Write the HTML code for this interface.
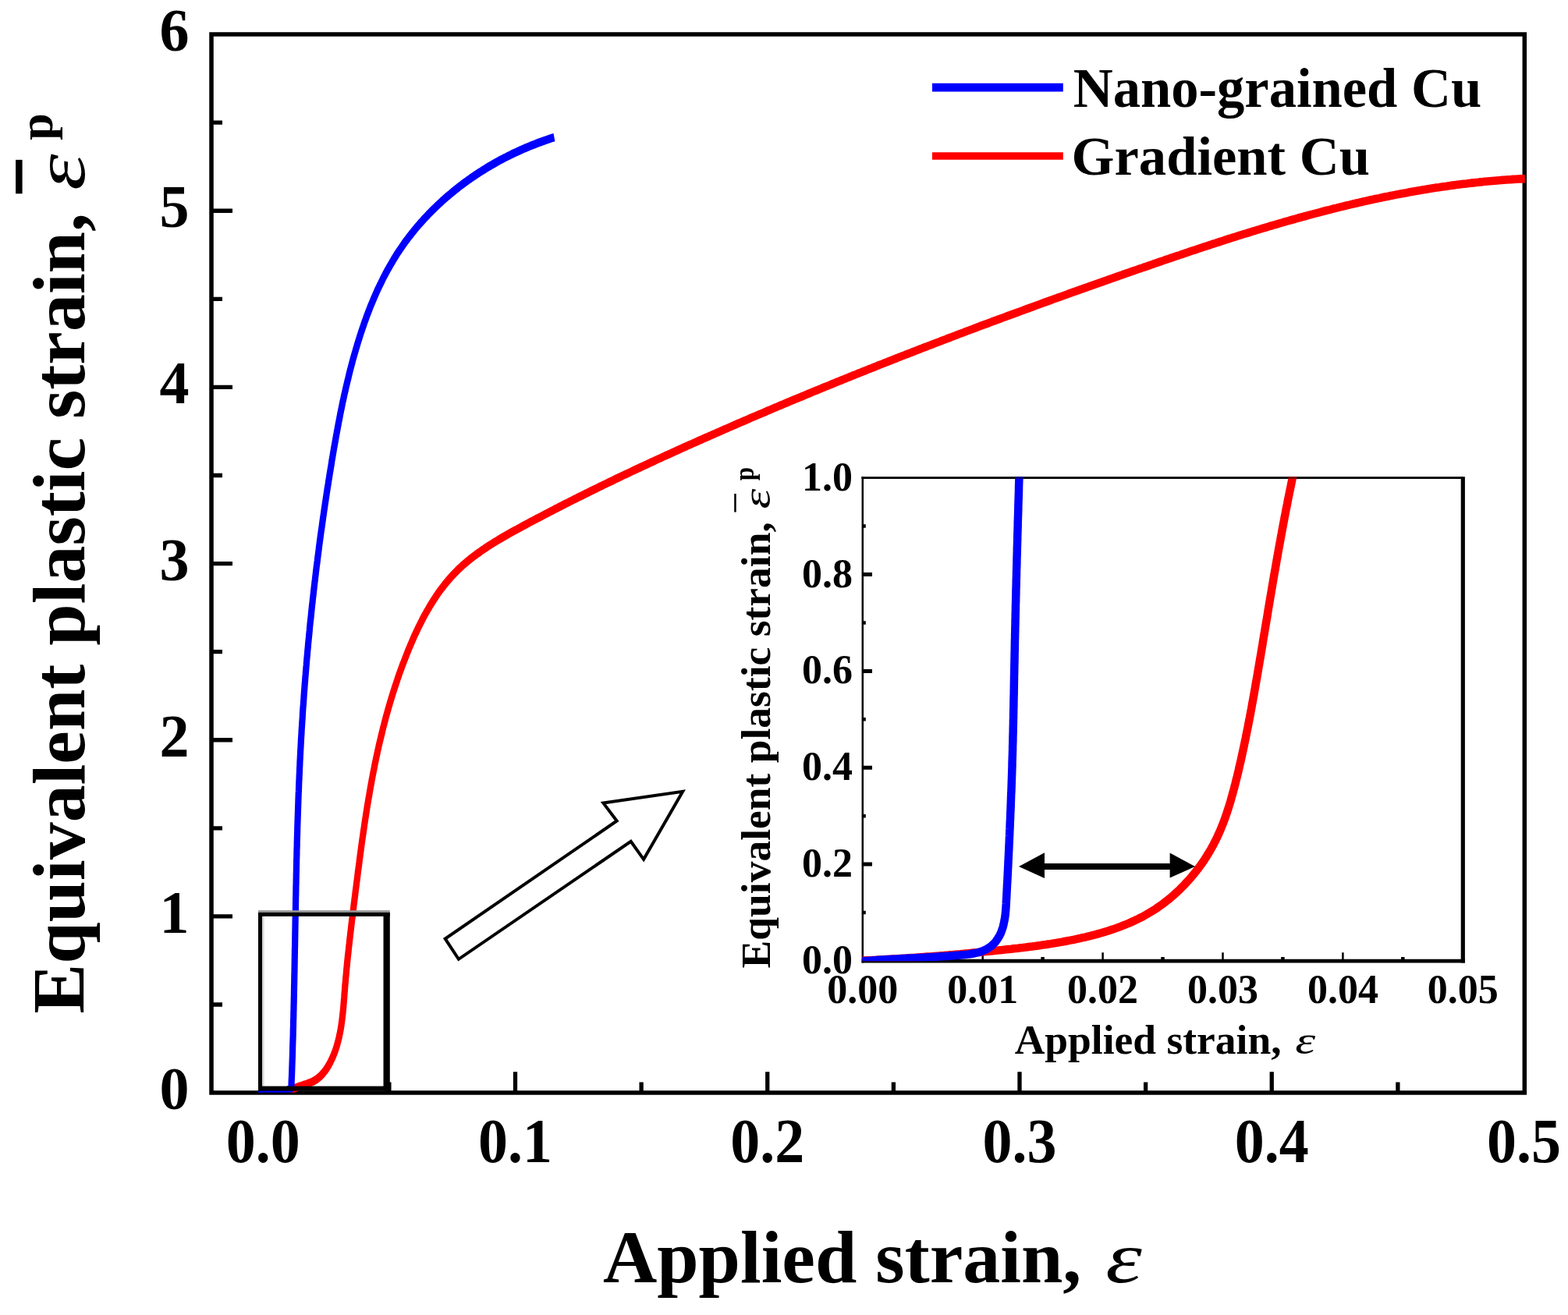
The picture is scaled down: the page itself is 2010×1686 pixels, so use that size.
<!DOCTYPE html><html><head><meta charset="utf-8"><title>Equivalent plastic strain vs applied strain</title>
<style>html,body{margin:0;padding:0;background:#fff;}svg{display:block;}text{font-family:'Liberation Serif','Times New Roman',serif;}</style></head><body>
<svg xmlns="http://www.w3.org/2000/svg" width="2010" height="1686" viewBox="0 0 2010 1686">
<rect x="0" y="0" width="2010" height="1686" fill="#fff"/>
<defs><clipPath id="cm"><rect x="269.0" y="44.1" width="1685.8" height="1356.6"/></clipPath>
<clipPath id="ci"><rect x="1105" y="611.3" width="772" height="620.9"/></clipPath></defs>
<g stroke="#000" fill="none" stroke-linecap="butt">
<path d="M271.0 44.1 H1954.3 V1401.1 H271.0 Z" stroke-width="5.5" stroke-linejoin="miter"/>
<path d="M660.50 1401.1 V1374.2 M983.75 1401.1 V1374.2 M1307.00 1401.1 V1374.2 M1630.25 1401.1 V1374.2 M498.88 1401.1 V1387.4 M822.12 1401.1 V1387.4 M1145.38 1401.1 V1387.4 M1468.62 1401.1 V1387.4 M1791.88 1401.1 V1387.4" stroke-width="5.3"/>
<path d="M271.0 1174.93 H298.0 M271.0 948.76 H298.0 M271.0 722.59 H298.0 M271.0 496.42 H298.0 M271.0 270.25 H298.0 M271.0 1288.01 H285.0 M271.0 1061.84 H285.0 M271.0 835.67 H285.0 M271.0 609.50 H285.0 M271.0 383.33 H285.0 M271.0 157.16 H285.0" stroke-width="5.3"/>
</g>
<g font-weight="bold" fill="#000">
<text transform="translate(337.2 1490) scale(1 1.045)" x="0" y="0" font-size="76" text-anchor="middle">0.0</text>
<text transform="translate(660.5 1490) scale(1 1.045)" x="0" y="0" font-size="76" text-anchor="middle">0.1</text>
<text transform="translate(983.8 1490) scale(1 1.045)" x="0" y="0" font-size="76" text-anchor="middle">0.2</text>
<text transform="translate(1307.0 1490) scale(1 1.045)" x="0" y="0" font-size="76" text-anchor="middle">0.3</text>
<text transform="translate(1630.2 1490) scale(1 1.045)" x="0" y="0" font-size="76" text-anchor="middle">0.4</text>
<text transform="translate(1953.5 1490) scale(1 1.045)" x="0" y="0" font-size="76" text-anchor="middle">0.5</text>
<text transform="translate(242.4 1422.1) scale(1 1.03)" x="0" y="0" font-size="76" text-anchor="end">0</text>
<text transform="translate(242.4 1195.9) scale(1 1.03)" x="0" y="0" font-size="76" text-anchor="end">1</text>
<text transform="translate(242.4 969.8) scale(1 1.03)" x="0" y="0" font-size="76" text-anchor="end">2</text>
<text transform="translate(242.4 743.6) scale(1 1.03)" x="0" y="0" font-size="76" text-anchor="end">3</text>
<text transform="translate(242.4 517.4) scale(1 1.03)" x="0" y="0" font-size="76" text-anchor="end">4</text>
<text transform="translate(242.4 291.2) scale(1 1.03)" x="0" y="0" font-size="76" text-anchor="end">5</text>
<text transform="translate(242.4 65.1) scale(1 1.03)" x="0" y="0" font-size="76" text-anchor="end">6</text>
</g>
<g font-weight="bold" fill="#000">
<text transform="translate(772.9 1643.5) scale(1 1.0)" font-size="96">Applied strain,</text>
<text transform="translate(1417.3 1643.5) scale(1.23 0.96)" font-size="96" font-style="italic" font-weight="normal">&#949;</text>
<g transform="translate(107.5 1299.8) rotate(-90)">
<text x="0" y="0" font-size="96">Equivalent plastic strain,</text>
<text transform="translate(1055.8 0) scale(1.23 0.96)" font-size="96" font-style="italic" font-weight="normal">&#949;</text>
<rect x="1051.5" y="-87.4" width="43.4" height="8.5" fill="#000"/>
<text x="1120" y="-41" font-size="62">p</text>
</g>
</g>
<g>
<path d="M1195 112.2 H1362.8" stroke="#00f" stroke-width="10.7"/>
<path d="M1195 200 H1362.8" stroke="#f00" stroke-width="9.5"/>
<text transform="translate(1375.7 136.5) scale(1 1.01)" font-size="70.6" font-weight="bold">Nano-grained Cu</text>
<text transform="translate(1373.6 223.7) scale(1 1.0)" font-size="70.6" font-weight="bold">Gradient Cu</text>
</g>
<g clip-path="url(#cm)"><g transform="scale(1 1.290)" fill="none" stroke-linejoin="round">
<path d="M370.7 1085.2 372.9 1083.8 375.3 1082.6 378.0 1081.6 380.7 1080.7 383.6 1079.8 386.6 1079.1 389.5 1078.3 392.5 1077.6 395.5 1076.7 398.4 1075.9 401.1 1074.9 403.7 1073.7 406.2 1072.5 408.5 1071.1 410.7 1069.6 412.7 1068.0 414.6 1066.3 416.5 1064.5 418.2 1062.6 419.8 1060.7 421.3 1058.8 422.7 1056.8 424.1 1054.7 425.3 1052.7 426.5 1050.6 427.7 1048.5 428.7 1046.4 429.8 1044.2 430.7 1042.1 431.6 1039.9 432.4 1037.7 433.2 1035.5 433.9 1033.3 434.6 1031.1 435.2 1028.8 435.8 1026.6 436.4 1024.3 436.9 1022.0 437.4 1019.7 437.8 1017.4 438.2 1015.1 438.6 1012.8 438.9 1010.5 439.3 1008.1 439.6 1005.8 439.9 1003.5 440.2 1001.1 440.4 998.8 440.7 996.4 440.9 994.1 441.2 991.7 441.4 989.4 441.6 987.0 441.9 984.7 442.1 982.3 442.3 980.0 442.6 977.6 442.9 975.3 443.1 972.9 443.4 970.6 443.7 968.3 444.0 965.9 444.2 963.6 444.5 961.3 444.8 958.9 445.1 956.6 445.4 954.3 445.7 952.0 446.0 949.6 446.4 947.3 446.7 945.0 447.0 942.7 447.3 940.4 447.7 938.0 448.0 935.7 448.3 933.4 448.7 931.1 449.0 928.8 449.4 926.5 449.7 924.2 450.1 921.9 450.4 919.6 450.8 917.2 451.1 914.9 451.5 912.6 451.9 910.3 452.2 908.0 452.6 905.7 453.0 903.4 453.3 901.1 453.7 898.8 454.1 896.5 454.4 894.2 454.8 891.9 455.2 889.6 455.5 887.3 455.9 885.0 456.3 882.7 456.7 880.4 457.0 878.1 457.4 875.8 457.8 873.5 458.2 871.2 458.5 868.9 458.9 866.6 459.3 864.3 459.7 862.0 460.1 859.7 460.5 857.4 460.8 855.1 461.2 852.8 461.6 850.5 462.0 848.2 462.4 845.9 462.8 843.6 463.2 841.3 463.6 839.0 464.0 836.7 464.4 834.4 464.9 832.1 465.3 829.8 465.7 827.5 466.1 825.2 466.6 822.9 467.0 820.6 467.4 818.3 467.9 816.0 468.3 813.7 468.8 811.5 469.2 809.2 469.7 806.9 470.2 804.6 470.6 802.3 471.1 800.0 471.6 797.7 472.1 795.5 472.6 793.2 473.1 790.9 473.6 788.6 474.1 786.3 474.6 784.0 475.1 781.8 475.7 779.5 476.2 777.2 476.7 774.9 477.3 772.7 477.8 770.4 478.4 768.1 479.0 765.8 479.6 763.6 480.1 761.3 480.7 759.0 481.3 756.8 481.9 754.5 482.5 752.2 483.2 750.0 483.8 747.7 484.4 745.5 485.1 743.2 485.7 740.9 486.4 738.7 487.1 736.4 487.8 734.2 488.5 731.9 489.2 729.7 489.9 727.4 490.6 725.2 491.3 722.9 492.1 720.7 492.8 718.4 493.6 716.2 494.3 714.0 495.1 711.7 495.9 709.5 496.7 707.3 497.5 705.0 498.3 702.8 499.2 700.6 500.0 698.3 500.9 696.1 501.7 693.9 502.6 691.7 503.5 689.4 504.4 687.2 505.3 685.0 506.2 682.8 507.2 680.6 508.1 678.4 509.1 676.2 510.0 673.9 511.0 671.7 512.0 669.5 513.0 667.3 514.1 665.1 515.1 662.9 516.1 660.7 517.2 658.6 518.3 656.4 519.4 654.2 520.5 652.0 521.6 649.8 522.7 647.6 523.9 645.4 525.0 643.3 526.2 641.1 527.4 638.9 528.6 636.8 529.8 634.6 531.0 632.4 532.3 630.3 533.6 628.2 534.9 626.0 536.2 623.9 537.5 621.8 538.9 619.7 540.2 617.6 541.6 615.5 543.0 613.4 544.4 611.4 545.9 609.3 547.4 607.3 548.9 605.3 550.4 603.3 551.9 601.3 553.5 599.3 555.1 597.3 556.7 595.4 558.4 593.4 560.0 591.5 561.7 589.6 563.4 587.7 565.2 585.9 567.0 584.1 568.8 582.2 570.6 580.4 572.5 578.7 574.4 576.9 576.3 575.2 578.2 573.5 580.2 571.8 582.2 570.1 584.3 568.5 586.3 566.9 588.4 565.3 590.6 563.8 592.7 562.2 594.9 560.7 597.2 559.2 599.4 557.8 601.7 556.3 604.0 554.9 606.3 553.5 608.7 552.1 611.1 550.7 613.5 549.4 615.9 548.1 618.3 546.7 620.8 545.5 623.2 544.2 625.7 542.9 628.2 541.7 630.8 540.4 633.3 539.2 635.9 538.0 638.4 536.8 641.0 535.6 643.6 534.4 646.2 533.2 648.8 532.1 651.4 530.9 654.0 529.8 656.7 528.6 659.3 527.5 662.0 526.4 664.6 525.3 667.3 524.2 669.9 523.0 672.6 521.9 675.2 520.8 677.9 519.7 680.5 518.6 683.2 517.5 685.9 516.4 688.5 515.3 691.2 514.3 693.8 513.2 696.5 512.1 699.2 511.0 701.8 509.9 704.5 508.8 707.2 507.8 709.9 506.7 712.5 505.6 715.2 504.6 717.9 503.5 720.6 502.4 723.2 501.4 725.9 500.3 728.6 499.3 731.3 498.2 733.9 497.2 736.6 496.1 739.3 495.1 742.0 494.0 744.7 493.0 747.4 492.0 750.0 490.9 752.7 489.9 755.4 488.9 758.1 487.8 760.8 486.8 763.5 485.8 766.2 484.8 768.9 483.7 771.6 482.7 774.3 481.7 777.0 480.7 779.7 479.7 782.4 478.7 785.1 477.7 787.8 476.6 790.5 475.6 793.2 474.6 795.9 473.6 798.6 472.6 801.3 471.6 804.0 470.7 806.7 469.7 809.4 468.7 812.1 467.7 814.8 466.7 817.5 465.7 820.2 464.7 822.9 463.7 825.6 462.8 828.4 461.8 831.1 460.8 833.8 459.8 836.5 458.9 839.2 457.9 841.9 456.9 844.7 455.9 847.4 455.0 850.1 454.0 852.8 453.0 855.5 452.1 858.3 451.1 861.0 450.2 863.7 449.2 866.4 448.3 869.2 447.3 871.9 446.3 874.6 445.4 877.3 444.4 880.1 443.5 882.8 442.5 885.5 441.6 888.3 440.6 891.0 439.7 893.7 438.8 896.4 437.8 899.2 436.9 901.9 435.9 904.7 435.0 907.4 434.1 910.1 433.1 912.9 432.2 915.6 431.3 918.3 430.3 921.1 429.4 923.8 428.5 926.6 427.5 929.3 426.6 932.0 425.7 934.8 424.7 937.5 423.8 940.3 422.9 943.0 422.0 945.8 421.0 948.5 420.1 951.2 419.2 954.0 418.3 956.7 417.4 959.5 416.5 962.2 415.5 965.0 414.6 967.7 413.7 970.5 412.8 973.2 411.9 976.0 411.0 978.8 410.1 981.5 409.2 984.3 408.2 987.0 407.3 989.8 406.4 992.5 405.5 995.3 404.6 998.0 403.7 1000.8 402.8 1003.6 401.9 1006.3 401.0 1009.1 400.1 1011.8 399.2 1014.6 398.3 1017.4 397.4 1020.1 396.5 1022.9 395.7 1025.7 394.8 1028.4 393.9 1031.2 393.0 1033.9 392.1 1036.7 391.2 1039.5 390.3 1042.2 389.4 1045.0 388.5 1047.8 387.7 1050.6 386.8 1053.3 385.9 1056.1 385.0 1058.9 384.1 1061.6 383.3 1064.4 382.4 1067.2 381.5 1070.0 380.6 1072.7 379.7 1075.5 378.9 1078.3 378.0 1081.1 377.1 1083.8 376.3 1086.6 375.4 1089.4 374.5 1092.2 373.6 1094.9 372.8 1097.7 371.9 1100.5 371.0 1103.3 370.2 1106.1 369.3 1108.9 368.5 1111.6 367.6 1114.4 366.7 1117.2 365.9 1120.0 365.0 1122.8 364.2 1125.6 363.3 1128.3 362.4 1131.1 361.6 1133.9 360.7 1136.7 359.9 1139.5 359.0 1142.3 358.2 1145.1 357.3 1147.9 356.5 1150.6 355.6 1153.4 354.8 1156.2 353.9 1159.0 353.1 1161.8 352.2 1164.6 351.4 1167.4 350.6 1170.2 349.7 1173.0 348.9 1175.8 348.0 1178.6 347.2 1181.4 346.3 1184.2 345.5 1187.0 344.7 1189.8 343.8 1192.6 343.0 1195.4 342.2 1198.2 341.3 1201.0 340.5 1203.8 339.7 1206.6 338.8 1209.4 338.0 1212.2 337.2 1215.0 336.3 1217.8 335.5 1220.6 334.7 1223.4 333.9 1226.2 333.0 1229.0 332.2 1231.8 331.4 1234.6 330.6 1237.4 329.7 1240.2 328.9 1243.0 328.1 1245.8 327.3 1248.6 326.5 1251.4 325.7 1254.2 324.8 1257.0 324.0 1259.8 323.2 1262.7 322.4 1265.5 321.6 1268.3 320.8 1271.1 319.9 1273.9 319.1 1276.7 318.3 1279.5 317.5 1282.3 316.7 1285.2 315.9 1288.0 315.1 1290.8 314.3 1293.6 313.5 1296.4 312.7 1299.2 311.9 1302.0 311.1 1304.9 310.3 1307.7 309.5 1310.5 308.7 1313.3 307.9 1316.1 307.1 1318.9 306.3 1321.8 305.5 1324.6 304.7 1327.4 303.9 1330.2 303.1 1333.0 302.3 1335.9 301.5 1338.7 300.7 1341.5 299.9 1344.3 299.1 1347.2 298.3 1350.0 297.5 1352.8 296.7 1355.6 295.9 1358.4 295.2 1361.3 294.4 1364.1 293.6 1366.9 292.8 1369.7 292.0 1372.6 291.2 1375.4 290.4 1378.2 289.7 1381.1 288.9 1383.9 288.1 1386.7 287.3 1389.5 286.5 1392.4 285.8 1395.2 285.0 1398.0 284.2 1400.9 283.4 1403.7 282.6 1406.5 281.9 1409.4 281.1 1412.2 280.3 1415.0 279.5 1417.8 278.8 1420.7 278.0 1423.5 277.2 1426.3 276.5 1429.2 275.7 1432.0 274.9 1434.8 274.1 1437.7 273.4 1440.5 272.6 1443.3 271.8 1446.2 271.1 1449.0 270.3 1451.9 269.5 1454.7 268.8 1457.5 268.0 1460.4 267.2 1463.2 266.5 1466.0 265.7 1468.9 265.0 1471.7 264.2 1474.6 263.4 1477.4 262.7 1480.2 261.9 1483.1 261.2 1485.9 260.4 1488.8 259.7 1491.6 258.9 1494.4 258.1 1497.3 257.4 1500.1 256.6 1503.0 255.9 1505.8 255.1 1508.7 254.4 1511.5 253.7 1514.3 252.9 1517.2 252.2 1520.0 251.4 1522.9 250.7 1525.7 249.9 1528.6 249.2 1531.4 248.5 1534.3 247.7 1537.1 247.0 1540.0 246.3 1542.8 245.5 1545.7 244.8 1548.5 244.1 1551.4 243.4 1554.2 242.6 1557.1 241.9 1559.9 241.2 1562.8 240.5 1565.6 239.8 1568.5 239.1 1571.4 238.3 1574.2 237.6 1577.1 236.9 1579.9 236.2 1582.8 235.5 1585.7 234.8 1588.5 234.1 1591.4 233.4 1594.2 232.7 1597.1 232.1 1600.0 231.4 1602.8 230.7 1605.7 230.0 1608.6 229.3 1611.4 228.6 1614.3 228.0 1617.2 227.3 1620.0 226.6 1622.9 226.0 1625.8 225.3 1628.6 224.6 1631.5 224.0 1634.4 223.3 1637.3 222.7 1640.1 222.0 1643.0 221.4 1645.9 220.7 1648.8 220.1 1651.7 219.5 1654.5 218.8 1657.4 218.2 1660.3 217.6 1663.2 216.9 1666.1 216.3 1669.0 215.7 1671.8 215.1 1674.7 214.5 1677.6 213.9 1680.5 213.3 1683.4 212.7 1686.3 212.1 1689.2 211.5 1692.1 210.9 1695.0 210.3 1697.9 209.7 1700.8 209.1 1703.7 208.6 1706.6 208.0 1709.5 207.4 1712.4 206.9 1715.3 206.3 1718.2 205.7 1721.1 205.2 1724.0 204.6 1726.9 204.1 1729.8 203.6 1732.7 203.0 1735.6 202.5 1738.5 202.0 1741.4 201.5 1744.3 200.9 1747.3 200.4 1750.2 199.9 1753.1 199.4 1756.0 198.9 1758.9 198.4 1761.9 197.9 1764.8 197.4 1767.7 197.0 1770.6 196.5 1773.6 196.0 1776.5 195.5 1779.4 195.1 1782.4 194.6 1785.3 194.2 1788.2 193.7 1791.2 193.3 1794.1 192.8 1797.0 192.4 1800.0 192.0 1802.9 191.6 1805.8 191.1 1808.8 190.7 1811.7 190.3 1814.7 189.9 1817.6 189.5 1820.6 189.1 1823.5 188.7 1826.5 188.4 1829.4 188.0 1832.4 187.6 1835.4 187.2 1838.3 186.9 1841.3 186.5 1844.2 186.2 1847.2 185.8 1850.2 185.5 1853.1 185.2 1856.1 184.8 1859.1 184.5 1862.0 184.2 1865.0 183.9 1868.0 183.6 1871.0 183.3 1873.9 183.0 1876.9 182.7 1879.9 182.5 1882.9 182.2 1885.9 181.9 1888.9 181.7 1891.8 181.4 1894.8 181.2 1897.8 180.9 1900.8 180.7 1903.8 180.4 1906.8 180.2 1909.8 180.0 1912.8 179.8 1915.8 179.6 1918.8 179.4 1921.8 179.2 1924.8 179.0 1927.8 178.9 1930.8 178.7 1933.9 178.5 1936.9 178.4 1939.9 178.2 1942.9 178.1 1945.9 177.9 1948.9 177.8 1952.0 177.7 1955.0 177.6" stroke="#f00" stroke-width="8.2"/>
<path d="M331.0 1084.9 366.0 1084.9 373.4 1081.5 373.5 1079.2 373.6 1076.9 373.7 1074.6 373.8 1072.2 374.0 1069.9 374.1 1067.6 374.2 1065.3 374.3 1063.0 374.4 1060.7 374.5 1058.3 374.6 1056.0 374.7 1053.7 374.8 1051.4 374.9 1049.1 375.0 1046.8 375.1 1044.4 375.1 1042.1 375.2 1039.8 375.3 1037.5 375.4 1035.2 375.5 1032.8 375.6 1030.5 375.7 1028.2 375.7 1025.9 375.8 1023.6 375.9 1021.2 376.0 1018.9 376.0 1016.6 376.1 1014.3 376.2 1012.0 376.3 1009.6 376.3 1007.3 376.4 1005.0 376.5 1002.7 376.5 1000.4 376.6 998.0 376.7 995.7 376.7 993.4 376.8 991.1 376.9 988.7 376.9 986.4 377.0 984.1 377.0 981.8 377.1 979.5 377.2 977.1 377.2 974.8 377.3 972.5 377.3 970.2 377.4 967.8 377.5 965.5 377.5 963.2 377.6 960.9 377.6 958.5 377.7 956.2 377.7 953.9 377.8 951.6 377.8 949.3 377.9 946.9 377.9 944.6 378.0 942.3 378.1 940.0 378.1 937.6 378.2 935.3 378.2 933.0 378.3 930.7 378.3 928.3 378.4 926.0 378.4 923.7 378.5 921.4 378.5 919.0 378.6 916.7 378.6 914.4 378.7 912.1 378.7 909.7 378.8 907.4 378.9 905.1 378.9 902.8 379.0 900.4 379.0 898.1 379.1 895.8 379.1 893.5 379.2 891.1 379.3 888.8 379.3 886.5 379.4 884.2 379.4 881.8 379.5 879.5 379.6 877.2 379.6 874.9 379.7 872.5 379.7 870.2 379.8 867.9 379.9 865.6 379.9 863.2 380.0 860.9 380.1 858.6 380.1 856.3 380.2 853.9 380.3 851.6 380.4 849.3 380.4 847.0 380.5 844.6 380.6 842.3 380.7 840.0 380.7 837.7 380.8 835.3 380.9 833.0 381.0 830.7 381.1 828.4 381.2 826.0 381.2 823.7 381.3 821.4 381.4 819.1 381.5 816.8 381.6 814.4 381.7 812.1 381.8 809.8 381.9 807.5 382.0 805.1 382.1 802.8 382.2 800.5 382.3 798.2 382.4 795.8 382.5 793.5 382.6 791.2 382.7 788.9 382.9 786.5 383.0 784.2 383.1 781.9 383.2 779.6 383.3 777.3 383.5 774.9 383.6 772.6 383.7 770.3 383.9 768.0 384.0 765.6 384.1 763.3 384.3 761.0 384.4 758.7 384.5 756.4 384.7 754.0 384.8 751.7 385.0 749.4 385.1 747.1 385.3 744.8 385.5 742.4 385.6 740.1 385.8 737.8 385.9 735.5 386.1 733.1 386.3 730.8 386.5 728.5 386.6 726.2 386.8 723.9 387.0 721.6 387.2 719.2 387.4 716.9 387.6 714.6 387.8 712.3 387.9 710.0 388.1 707.6 388.3 705.3 388.5 703.0 388.8 700.7 389.0 698.4 389.2 696.1 389.4 693.7 389.6 691.4 389.8 689.1 390.0 686.8 390.3 684.5 390.5 682.2 390.7 679.8 391.0 677.5 391.2 675.2 391.4 672.9 391.7 670.6 391.9 668.3 392.2 665.9 392.4 663.6 392.7 661.3 392.9 659.0 393.2 656.7 393.4 654.4 393.7 652.1 394.0 649.7 394.2 647.4 394.5 645.1 394.8 642.8 395.0 640.5 395.3 638.2 395.6 635.9 395.9 633.6 396.2 631.2 396.5 628.9 396.8 626.6 397.0 624.3 397.3 622.0 397.6 619.7 397.9 617.4 398.3 615.1 398.6 612.8 398.9 610.4 399.2 608.1 399.5 605.8 399.8 603.5 400.1 601.2 400.5 598.9 400.8 596.6 401.1 594.3 401.5 592.0 401.8 589.7 402.1 587.4 402.5 585.1 402.8 582.7 403.2 580.4 403.5 578.1 403.9 575.8 404.2 573.5 404.6 571.2 404.9 568.9 405.3 566.6 405.6 564.3 406.0 562.0 406.4 559.7 406.8 557.4 407.1 555.1 407.5 552.8 407.9 550.5 408.3 548.2 408.7 545.9 409.0 543.5 409.4 541.2 409.8 538.9 410.2 536.6 410.6 534.3 411.0 532.0 411.4 529.7 411.8 527.4 412.3 525.1 412.7 522.8 413.1 520.5 413.5 518.2 413.9 515.9 414.3 513.6 414.8 511.3 415.2 509.0 415.6 506.7 416.1 504.4 416.5 502.1 416.9 499.8 417.4 497.5 417.8 495.2 418.3 492.9 418.7 490.6 419.2 488.3 419.6 486.0 420.1 483.7 420.6 481.4 421.0 479.1 421.5 476.8 422.0 474.6 422.4 472.3 422.9 470.0 423.4 467.7 423.9 465.4 424.4 463.1 424.9 460.8 425.3 458.5 425.8 456.2 426.3 453.9 426.8 451.6 427.3 449.3 427.8 447.0 428.3 444.7 428.9 442.4 429.4 440.1 429.9 437.9 430.4 435.6 430.9 433.3 431.5 431.0 432.0 428.7 432.6 426.4 433.1 424.1 433.7 421.8 434.2 419.6 434.8 417.3 435.4 415.0 435.9 412.7 436.5 410.4 437.1 408.1 437.7 405.9 438.3 403.6 438.9 401.3 439.5 399.0 440.2 396.8 440.8 394.5 441.4 392.2 442.1 389.9 442.8 387.7 443.4 385.4 444.1 383.1 444.8 380.9 445.5 378.6 446.2 376.4 446.9 374.1 447.6 371.8 448.3 369.6 449.1 367.3 449.8 365.1 450.6 362.8 451.4 360.6 452.1 358.3 452.9 356.1 453.7 353.8 454.6 351.6 455.4 349.4 456.2 347.1 457.1 344.9 457.9 342.7 458.8 340.4 459.7 338.2 460.6 336.0 461.5 333.8 462.4 331.5 463.4 329.3 464.3 327.1 465.3 324.9 466.3 322.7 467.2 320.5 468.3 318.3 469.3 316.1 470.3 313.9 471.4 311.7 472.4 309.6 473.5 307.4 474.6 305.2 475.7 303.1 476.9 300.9 478.0 298.8 479.2 296.6 480.4 294.5 481.6 292.4 482.8 290.3 484.0 288.1 485.3 286.0 486.6 283.9 487.9 281.9 489.2 279.8 490.5 277.7 491.8 275.6 493.2 273.6 494.6 271.5 496.0 269.5 497.4 267.5 498.9 265.5 500.4 263.5 501.9 261.5 503.4 259.5 504.9 257.5 506.5 255.5 508.0 253.6 509.6 251.6 511.3 249.7 512.9 247.8 514.6 245.9 516.3 244.0 518.0 242.1 519.7 240.2 521.5 238.4 523.3 236.5 525.1 234.7 526.9 232.9 528.8 231.1 530.6 229.3 532.5 227.5 534.4 225.7 536.4 223.9 538.3 222.2 540.3 220.5 542.3 218.8 544.3 217.0 546.4 215.4 548.4 213.7 550.5 212.0 552.6 210.3 554.7 208.7 556.8 207.1 559.0 205.5 561.1 203.9 563.3 202.3 565.5 200.7 567.7 199.1 570.0 197.6 572.2 196.1 574.5 194.6 576.8 193.1 579.1 191.6 581.4 190.1 583.8 188.6 586.1 187.2 588.5 185.7 590.9 184.3 593.3 182.9 595.7 181.5 598.1 180.2 600.5 178.8 603.0 177.5 605.5 176.1 608.0 174.8 610.5 173.5 613.0 172.2 615.5 171.0 618.0 169.7 620.6 168.5 623.1 167.2 625.7 166.0 628.3 164.8 630.9 163.7 633.5 162.5 636.1 161.3 638.8 160.2 641.4 159.1 644.1 158.0 646.7 156.9 649.4 155.9 652.1 154.8 654.8 153.8 657.5 152.7 660.2 151.7 663.0 150.8 665.7 149.8 668.4 148.8 671.2 147.9 673.9 147.0 676.7 146.1 679.5 145.2 682.3 144.3 685.1 143.5 687.9 142.6 690.7 141.8 693.5 141.0 696.3 140.2 699.1 139.4 702.0 138.7 704.8 137.9 707.6 137.2 710.5 136.5" stroke="#00f" stroke-width="8.2"/>
</g></g>
<g>
<rect x="331" y="1169.9" width="5.3" height="228.5" fill="#000"/>
<rect x="336.3" y="1174.9" width="2.4" height="217.7" fill="#dcdcdc"/>
<rect x="491.5" y="1169.9" width="8.3" height="228.5" fill="#000"/>
<rect x="331" y="1167.2" width="168.8" height="2.7" fill="#959595"/>
<rect x="331" y="1169.9" width="168.8" height="5" fill="#000"/>
<rect x="331" y="1392.6" width="168.8" height="6" fill="#000"/>
</g>
<path d="M570.7 1203.6 L587.9 1229.8 L808.7 1078.8 L825.1 1101.8 L875.2 1014.8 L773.4 1029.6 L790.7 1052.5 Z" fill="#fff" stroke="#000" stroke-width="4" stroke-linejoin="miter"/>
<g stroke="#000" fill="none">
<path d="M1104.5 612.6 H1875.3" stroke-width="2.6"/>
<path d="M1105.8 611.3 V1234.6" stroke-width="2.5"/>
<path d="M1875.3 611.3 V1234.6" stroke-width="5.2"/>
<path d="M1104.6 1232.1 H1877.9" stroke-width="4.9"/>
<path d="M1259.7 1230.0 V1221.2 M1413.6 1230.0 V1221.2 M1567.5 1230.0 V1221.2 M1721.4 1230.0 V1221.2" stroke-width="2.5"/>
<path d="M1182.8 1230.0 V1226.9 M1336.6 1230.0 V1226.9 M1490.5 1230.0 V1226.9 M1644.4 1230.0 V1226.9 M1798.3 1230.0 V1226.9" stroke-width="4.5"/>
<path d="M1105.8 1108.1 H1118.0 M1105.8 984.2 H1118.0 M1105.8 860.4 H1118.0 M1105.8 736.5 H1118.0" stroke-width="5"/>
<path d="M1105.8 1170.1 H1109.8 M1105.8 1046.2 H1109.8 M1105.8 922.3 H1109.8 M1105.8 798.4 H1109.8 M1105.8 674.5 H1109.8" stroke-width="4.5"/>
</g>
<g font-weight="bold" fill="#000">
<text x="1105.8" y="1286" font-size="52" text-anchor="middle">0.00</text>
<text x="1259.7" y="1286" font-size="52" text-anchor="middle">0.01</text>
<text x="1413.6" y="1286" font-size="52" text-anchor="middle">0.02</text>
<text x="1567.5" y="1286" font-size="52" text-anchor="middle">0.03</text>
<text x="1721.4" y="1286" font-size="52" text-anchor="middle">0.04</text>
<text x="1875.3" y="1286" font-size="52" text-anchor="middle">0.05</text>
<text x="1093.1" y="1248.0" font-size="52" text-anchor="end">0.0</text>
<text x="1093.1" y="1124.1" font-size="52" text-anchor="end">0.2</text>
<text x="1093.1" y="1000.2" font-size="52" text-anchor="end">0.4</text>
<text x="1093.1" y="876.4" font-size="52" text-anchor="end">0.6</text>
<text x="1093.1" y="752.5" font-size="52" text-anchor="end">0.8</text>
<text x="1093.1" y="628.6" font-size="52" text-anchor="end">1.0</text>
<text x="1300.7" y="1351" font-size="53.5">Applied strain,</text>
<text transform="translate(1660.3 1351) scale(1.23 0.96)" font-size="53.5" font-style="italic" font-weight="normal">&#949;</text>
<g transform="translate(987.3 1241.4) rotate(-90)">
<text x="0" y="0" font-size="53.5">Equivalent plastic strain,</text>
<text transform="translate(588.8 0) scale(1.23 0.96)" font-size="53.5" font-style="italic" font-weight="normal">&#949;</text>
<rect x="584.8" y="-46.1" width="23.6" height="2.5" fill="#000"/>
<text transform="translate(625.2 -21.3) scale(0.88 1)" font-size="35.5">p</text>
</g>
</g>
<g clip-path="url(#ci)" fill="none" stroke-linejoin="round">
<path d="M1105.5 1231.6 1108.5 1231.5 1111.5 1231.3 1114.5 1231.2 1117.5 1231.1 1120.4 1230.9 1123.4 1230.8 1126.4 1230.6 1129.4 1230.5 1132.4 1230.3 1135.4 1230.1 1138.4 1230.0 1141.4 1229.8 1144.4 1229.6 1147.4 1229.4 1150.3 1229.3 1153.3 1229.1 1156.3 1228.9 1159.3 1228.7 1162.3 1228.5 1165.3 1228.3 1168.3 1228.1 1171.2 1227.9 1174.2 1227.7 1177.2 1227.5 1180.2 1227.3 1183.2 1227.1 1186.2 1226.8 1189.1 1226.6 1192.1 1226.4 1195.1 1226.2 1198.1 1225.9 1201.1 1225.7 1204.0 1225.5 1207.0 1225.2 1210.0 1225.0 1213.0 1224.7 1216.0 1224.5 1218.9 1224.2 1221.9 1224.0 1224.9 1223.7 1227.9 1223.4 1230.8 1223.2 1233.8 1222.9 1236.8 1222.6 1239.8 1222.4 1242.8 1222.1 1245.7 1221.8 1248.7 1221.5 1251.7 1221.3 1254.7 1221.0 1257.6 1220.7 1260.6 1220.4 1263.6 1220.1 1266.6 1219.8 1269.5 1219.5 1272.5 1219.2 1275.5 1218.9 1278.5 1218.6 1281.5 1218.3 1284.4 1218.0 1287.4 1217.6 1290.4 1217.3 1293.4 1217.0 1296.3 1216.7 1299.3 1216.3 1302.3 1216.0 1305.2 1215.7 1308.2 1215.3 1311.2 1215.0 1314.2 1214.6 1317.1 1214.2 1320.1 1213.8 1323.1 1213.5 1326.0 1213.1 1329.0 1212.7 1332.0 1212.3 1334.9 1211.8 1337.9 1211.4 1340.9 1211.0 1343.8 1210.5 1346.8 1210.1 1349.7 1209.6 1352.7 1209.1 1355.6 1208.6 1358.6 1208.1 1361.5 1207.6 1364.5 1207.0 1367.4 1206.5 1370.4 1205.9 1373.3 1205.4 1376.3 1204.8 1379.2 1204.2 1382.1 1203.5 1385.1 1202.9 1388.0 1202.2 1390.9 1201.6 1393.8 1200.9 1396.7 1200.2 1399.7 1199.4 1402.6 1198.7 1405.5 1197.9 1408.3 1197.1 1411.2 1196.3 1414.1 1195.4 1417.0 1194.6 1419.8 1193.7 1422.7 1192.8 1425.5 1191.8 1428.3 1190.9 1431.1 1189.9 1433.9 1188.9 1436.7 1187.8 1439.5 1186.7 1442.3 1185.6 1445.0 1184.5 1447.8 1183.3 1450.5 1182.1 1453.2 1180.9 1455.9 1179.6 1458.5 1178.4 1461.2 1177.0 1463.8 1175.7 1466.5 1174.3 1469.1 1172.8 1471.6 1171.3 1474.2 1169.8 1476.7 1168.3 1479.3 1166.7 1481.8 1165.1 1484.2 1163.4 1486.7 1161.7 1489.1 1160.0 1491.5 1158.2 1493.9 1156.3 1496.3 1154.5 1498.6 1152.6 1500.9 1150.7 1503.2 1148.7 1505.5 1146.7 1507.7 1144.7 1509.9 1142.6 1512.1 1140.6 1514.2 1138.4 1516.4 1136.3 1518.5 1134.1 1520.5 1131.9 1522.6 1129.7 1524.6 1127.5 1526.6 1125.2 1528.5 1122.9 1530.4 1120.6 1532.3 1118.2 1534.2 1115.9 1536.0 1113.5 1537.8 1111.1 1539.6 1108.7 1541.3 1106.2 1543.0 1103.8 1544.6 1101.3 1546.3 1098.8 1547.8 1096.2 1549.4 1093.7 1550.9 1091.1 1552.4 1088.5 1553.8 1085.9 1555.3 1083.3 1556.6 1080.7 1558.0 1078.0 1559.3 1075.4 1560.6 1072.7 1561.8 1070.0 1563.0 1067.3 1564.2 1064.6 1565.4 1061.8 1566.5 1059.1 1567.6 1056.3 1568.7 1053.5 1569.7 1050.7 1570.7 1047.9 1571.7 1045.1 1572.7 1042.3 1573.6 1039.4 1574.5 1036.6 1575.4 1033.7 1576.3 1030.9 1577.2 1028.0 1578.0 1025.1 1578.8 1022.2 1579.6 1019.4 1580.4 1016.5 1581.2 1013.6 1582.0 1010.7 1582.7 1007.8 1583.5 1004.8 1584.2 1001.9 1584.9 999.0 1585.7 996.1 1586.4 993.2 1587.1 990.3 1587.8 987.4 1588.4 984.4 1589.1 981.5 1589.8 978.6 1590.5 975.7 1591.1 972.8 1591.8 969.8 1592.4 966.9 1593.0 964.0 1593.7 961.0 1594.3 958.1 1594.9 955.2 1595.5 952.3 1596.1 949.3 1596.8 946.4 1597.3 943.5 1597.9 940.5 1598.5 937.6 1599.1 934.7 1599.7 931.7 1600.3 928.8 1600.8 925.9 1601.4 922.9 1602.0 920.0 1602.5 917.1 1603.1 914.1 1603.6 911.2 1604.2 908.2 1604.7 905.3 1605.2 902.4 1605.8 899.4 1606.3 896.5 1606.8 893.5 1607.4 890.6 1607.9 887.6 1608.4 884.7 1608.9 881.8 1609.4 878.8 1609.9 875.9 1610.5 872.9 1611.0 870.0 1611.5 867.0 1612.0 864.1 1612.5 861.1 1613.0 858.2 1613.5 855.2 1614.0 852.3 1614.5 849.3 1615.0 846.4 1615.5 843.5 1616.0 840.5 1616.5 837.6 1617.0 834.6 1617.5 831.7 1618.0 828.7 1618.5 825.8 1618.9 822.8 1619.4 819.9 1619.9 816.9 1620.4 814.0 1620.9 811.0 1621.4 808.0 1621.9 805.1 1622.4 802.1 1622.9 799.2 1623.4 796.2 1623.9 793.3 1624.4 790.3 1624.9 787.4 1625.3 784.4 1625.8 781.5 1626.3 778.5 1626.8 775.6 1627.3 772.6 1627.8 769.7 1628.3 766.7 1628.8 763.8 1629.3 760.8 1629.8 757.9 1630.3 754.9 1630.8 752.0 1631.3 749.0 1631.8 746.1 1632.3 743.1 1632.8 740.2 1633.3 737.2 1633.8 734.3 1634.4 731.3 1634.9 728.4 1635.4 725.4 1635.9 722.5 1636.4 719.5 1636.9 716.6 1637.5 713.6 1638.0 710.7 1638.5 707.8 1639.0 704.8 1639.6 701.9 1640.1 698.9 1640.6 696.0 1641.2 693.0 1641.7 690.1 1642.2 687.1 1642.8 684.2 1643.3 681.3 1643.9 678.3 1644.4 675.4 1645.0 672.4 1645.5 669.5 1646.1 666.6 1646.6 663.6 1647.2 660.7 1647.8 657.7 1648.3 654.8 1648.9 651.9 1649.5 648.9 1650.1 646.0 1650.6 643.1 1651.2 640.1 1651.8 637.2 1652.4 634.3 1653.0 631.3 1653.6 628.4 1654.2 625.5 1654.8 622.6 1655.4 619.6 1656.0 616.7 1656.6 613.8 1657.3 610.9 1657.9 607.9 1658.5 605.0" stroke="#f00" stroke-width="10.5"/>
<path d="M1105.5 1232.4 1108.5 1232.1 1111.6 1231.9 1114.6 1231.7 1117.7 1231.5 1120.7 1231.2 1123.7 1231.0 1126.7 1230.8 1129.7 1230.6 1132.7 1230.4 1135.7 1230.3 1138.7 1230.1 1141.6 1229.9 1144.6 1229.7 1147.5 1229.6 1150.5 1229.4 1153.4 1229.3 1156.4 1229.1 1159.3 1228.9 1162.3 1228.8 1165.2 1228.6 1168.1 1228.5 1171.1 1228.3 1174.0 1228.2 1177.0 1228.0 1179.9 1227.9 1182.9 1227.7 1185.8 1227.5 1188.8 1227.4 1191.7 1227.2 1194.7 1227.0 1197.7 1226.9 1200.7 1226.7 1203.6 1226.5 1206.6 1226.3 1209.6 1226.1 1212.7 1225.9 1215.7 1225.7 1218.7 1225.5 1221.8 1225.3 1224.8 1225.0 1227.9 1224.8 1231.0 1224.5 1234.1 1224.3 1237.2 1224.0 1240.2 1223.6 1243.3 1223.2 1246.3 1222.7 1249.3 1222.2 1252.2 1221.5 1255.1 1220.8 1257.9 1219.9 1260.6 1218.8 1263.3 1217.6 1265.8 1216.3 1268.2 1214.8 1270.6 1213.1 1272.7 1211.1 1274.8 1209.1 1276.7 1206.8 1278.4 1204.4 1280.0 1201.9 1281.5 1199.3 1282.8 1196.6 1283.9 1193.8 1284.9 1191.0 1285.8 1188.1 1286.5 1185.2 1287.1 1182.3 1287.7 1179.4 1288.2 1176.4 1288.6 1173.5 1288.9 1170.5 1289.2 1167.5 1289.4 1164.5 1289.6 1161.5 1289.8 1158.5 1289.9 1155.4 1290.1 1152.4 1290.3 1149.4 1290.4 1146.4 1290.6 1143.4 1290.7 1140.4 1290.9 1137.4 1291.0 1134.4 1291.2 1131.4 1291.4 1128.4 1291.5 1125.4 1291.7 1122.4 1291.8 1119.4 1292.0 1116.4 1292.1 1113.4 1292.3 1110.4 1292.4 1107.4 1292.5 1104.4 1292.7 1101.4 1292.8 1098.4 1293.0 1095.4 1293.1 1092.4 1293.3 1089.4 1293.4 1086.4 1293.5 1083.4 1293.7 1080.4 1293.8 1077.5 1293.9 1074.5 1294.1 1071.5 1294.2 1068.5 1294.3 1065.5 1294.5 1062.5 1294.6 1059.5 1294.7 1056.5 1294.8 1053.6 1295.0 1050.6 1295.1 1047.6 1295.2 1044.6 1295.3 1041.6 1295.5 1038.6 1295.6 1035.7 1295.7 1032.7 1295.8 1029.7 1295.9 1026.7 1296.0 1023.7 1296.1 1020.7 1296.2 1017.8 1296.4 1014.8 1296.5 1011.8 1296.6 1008.8 1296.7 1005.8 1296.8 1002.8 1296.9 999.9 1297.0 996.9 1297.1 993.9 1297.2 990.9 1297.3 987.9 1297.4 984.9 1297.5 982.0 1297.5 979.0 1297.6 976.0 1297.7 973.0 1297.8 970.0 1297.9 967.0 1298.0 964.1 1298.1 961.1 1298.1 958.1 1298.2 955.1 1298.3 952.1 1298.4 949.1 1298.4 946.1 1298.5 943.1 1298.6 940.1 1298.7 937.1 1298.7 934.2 1298.8 931.2 1298.9 928.2 1298.9 925.2 1299.0 922.2 1299.1 919.2 1299.1 916.2 1299.2 913.2 1299.2 910.2 1299.3 907.2 1299.4 904.2 1299.4 901.2 1299.5 898.2 1299.5 895.2 1299.6 892.2 1299.7 889.2 1299.7 886.2 1299.8 883.2 1299.8 880.2 1299.9 877.2 1299.9 874.2 1300.0 871.2 1300.0 868.2 1300.1 865.3 1300.2 862.3 1300.2 859.3 1300.3 856.3 1300.3 853.3 1300.4 850.3 1300.5 847.3 1300.5 844.3 1300.6 841.3 1300.6 838.3 1300.7 835.3 1300.8 832.3 1300.8 829.3 1300.9 826.3 1300.9 823.3 1301.0 820.3 1301.1 817.3 1301.1 814.4 1301.2 811.4 1301.3 808.4 1301.3 805.4 1301.4 802.4 1301.5 799.4 1301.5 796.4 1301.6 793.4 1301.7 790.4 1301.7 787.4 1301.8 784.4 1301.9 781.5 1301.9 778.5 1302.0 775.5 1302.1 772.5 1302.2 769.5 1302.2 766.5 1302.3 763.5 1302.4 760.5 1302.4 757.5 1302.5 754.5 1302.6 751.6 1302.7 748.6 1302.7 745.6 1302.8 742.6 1302.9 739.6 1303.0 736.6 1303.0 733.6 1303.1 730.6 1303.2 727.6 1303.3 724.7 1303.4 721.7 1303.4 718.7 1303.5 715.7 1303.6 712.7 1303.7 709.7 1303.8 706.7 1303.8 703.7 1303.9 700.7 1304.0 697.8 1304.1 694.8 1304.2 691.8 1304.2 688.8 1304.3 685.8 1304.4 682.8 1304.5 679.8 1304.6 676.8 1304.7 673.8 1304.7 670.8 1304.8 667.8 1304.9 664.9 1305.0 661.9 1305.1 658.9 1305.2 655.9 1305.3 652.9 1305.3 649.9 1305.4 646.9 1305.5 643.9 1305.6 640.9 1305.7 637.9 1305.8 634.9 1305.9 631.9 1306.0 628.9 1306.0 626.0 1306.1 623.0 1306.2 620.0 1306.3 617.0 1306.4 614.0 1306.5 611.0 1306.6 608.0 1306.7 605.0" stroke="#00f" stroke-width="10.5"/>
</g>
<path d="M1104.5 612.6 H1875.3" stroke="#000" stroke-opacity="0.5" stroke-width="2.6"/>
<path d="M1338 1107.1 H1500 V1114.9 H1338 Z" fill="#000"/>
<path d="M1306 1111 L1339 1093.2 L1339 1126 Z" fill="#000"/>
<path d="M1532 1111 L1499.6 1093.4 L1499.6 1125.6 Z" fill="#000"/>
</svg></body></html>
